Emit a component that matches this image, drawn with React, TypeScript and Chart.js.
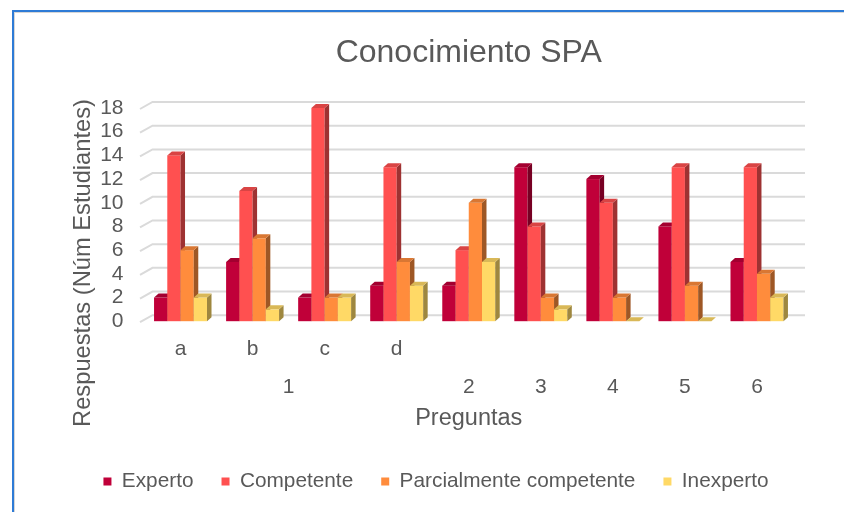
import React, { useEffect, useRef } from 'react';
import { Chart, registerables } from 'chart.js';

Chart.register(...registerables);

// ---- data ----
const subLabels = ['a', 'b', 'c', 'd', '', '', '', '', ''];
const questionLabels = ['1', '1', '1', '1', '2', '3', '4', '5', '6'];
const experto = [2, 5, 2, 3, 3, 13, 12, 8, 5];
const competente = [14, 11, 18, 13, 6, 8, 10, 13, 13];
const parcialmente = [6, 7, 2, 5, 10, 2, 2, 3, 4];
const inexperto = [2, 1, 2, 3, 5, 1, 0, 0, 2];
const seriesNames = ['Experto', 'Competente', 'Parcialmente competente', 'Inexperto'];
const seriesColors = ['#C00039', '#FF5050', '#FF8C3C', '#FFD966'];
const titleText = 'Conocimiento SPA';
const yTitle = 'Respuestas (Núm Estudiantes)';
const xTitle = 'Preguntas';

const FONT = "'Liberation Sans', Arial, sans-serif";
const TEXT = '#595959';
const DX = 4.5;
const DY = 4;

function shade(hex: string, f: number): string {
  const n = parseInt(hex.slice(1), 16);
  const r = Math.round(((n >> 16) & 255) * f);
  const g = Math.round(((n >> 8) & 255) * f);
  const b = Math.round((n & 255) * f);
  return `rgb(${r},${g},${b})`;
}

const bars3dPlugin = {
  id: 'bars3d',
  beforeDatasetsDraw(chart: any) {
    const ctx = chart.ctx;
    const area = chart.chartArea;
    const ys = chart.scales.y;
    ctx.save();
    ctx.strokeStyle = '#DADADA';
    ctx.lineWidth = 2;
    ys.ticks.forEach((t: any) => {
      const py = ys.getPixelForValue(t.value);
      ctx.beginPath();
      ctx.moveTo(area.left - 4.5, py + 1);
      ctx.lineTo(area.left + 8, py - 6);
      ctx.lineTo(area.right + 12, py - 6);
      ctx.stroke();
    });
    chart.data.datasets.forEach((ds: any, di: number) => {
      const meta = chart.getDatasetMeta(di);
      if (meta.hidden) return;
      const col = ds.backgroundColor as string;
      meta.data.forEach((el: any) => {
        const p = el.getProps(['x', 'y', 'base', 'width'], true);
        const l = p.x - p.width / 2;
        const r = p.x + p.width / 2;
        const top = p.y;
        const bottom = p.base;
        ctx.fillStyle = col;
        ctx.fillRect(l, top, p.width, bottom - top);
        ctx.fillStyle = shade(col, 0.62);
        ctx.beginPath();
        ctx.moveTo(r, top);
        ctx.lineTo(r + DX, top - DY);
        ctx.lineTo(r + DX, bottom - DY);
        ctx.lineTo(r, bottom);
        ctx.closePath();
        ctx.fill();
        ctx.fillStyle = shade(col, 0.85);
        ctx.beginPath();
        ctx.moveTo(l, top);
        ctx.lineTo(l + DX, top - DY);
        ctx.lineTo(r + DX, top - DY);
        ctx.lineTo(r, top);
        ctx.closePath();
        ctx.fill();
      });
    });
    ctx.restore();
    return false;
  },
};

const textPlugin = {
  id: 'extraText',
  afterDraw(chart: any) {
    const xs = chart.scales.x;
    const ctx = chart.ctx;
    ctx.save();
    ctx.fillStyle = TEXT;
    ctx.font = `21px ${FONT}`;
    ctx.textAlign = 'center';
    ctx.textBaseline = 'middle';
    let i = 0;
    while (i < questionLabels.length) {
      let j = i;
      while (j + 1 < questionLabels.length && questionLabels[j + 1] === questionLabels[i]) j++;
      const cx = (xs.getPixelForValue(i) + xs.getPixelForValue(j)) / 2;
      ctx.fillText(questionLabels[i], cx, xs.top + 66);
      i = j + 1;
    }
    // y-axis title
    ctx.translate(83, 263);
    ctx.rotate(-Math.PI / 2);
    ctx.font = `23.7px ${FONT}`;
    ctx.fillText(yTitle, 0, 0);
    ctx.restore();
  },
};

export default function App() {
  const ref = useRef<HTMLCanvasElement | null>(null);
  useEffect(() => {
    if (!ref.current) return;
    const values = [experto, competente, parcialmente, inexperto];
    const chart = new Chart(ref.current, {
      type: 'bar',
      data: {
        labels: subLabels,
        datasets: seriesNames.map((name, i) => ({
          label: name,
          data: values[i],
          backgroundColor: seriesColors[i],
          borderWidth: 0,
          categoryPercentage: 0.735,
          barPercentage: 1.0,
          yAxisID: 'y',
        })),
      },
      options: {
        responsive: false,
        animation: false,
        layout: { padding: { left: 44, right: 16, top: 0, bottom: 10 } },
        plugins: {
          title: {
            display: true,
            text: titleText,
            color: TEXT,
            fullSize: false,
            font: { family: FONT, size: 32, weight: 'normal', lineHeight: 1.2 },
            padding: { top: 34, bottom: 35.6 },
          },
          legend: {
            position: 'bottom',
            labels: {
              color: TEXT,
              font: { family: FONT, size: 20.8 },
              boxWidth: 8,
              boxHeight: 8,
              padding: 28,
            },
          },
          tooltip: { enabled: false },
        },
        scales: {
          x: {
            grid: { display: false, drawTicks: false },
            border: { display: false },
            ticks: {
              color: TEXT,
              font: { family: FONT, size: 21, lineHeight: 1.2 },
              padding: 15,
              maxRotation: 0,
              autoSkip: false,
            },
            title: {
              display: true,
              text: xTitle,
              color: TEXT,
              font: { family: FONT, size: 23.5, lineHeight: 1.2 },
              padding: { top: 0, bottom: 11 },
            },
            afterFit(scale: any) {
              scale.height = 122;
            },
          },
          y: {
            min: 0,
            max: 18,
            ticks: {
              stepSize: 2,
              autoSkip: false,
              color: TEXT,
              font: { family: FONT, size: 21 },
              padding: 21,
            },
            grid: { display: false, drawTicks: false },
            border: { display: false },
            title: { display: false },
            afterFit(scale: any) {
              scale.width = 100.5;
            },
          },
          yRight: {
            position: 'right',
            display: true,
            grid: { display: false, drawTicks: false },
            border: { display: false },
            ticks: { display: false },
            afterFit(scale: any) {
              scale.width = 35;
            },
          },
        },
      },
      plugins: [bars3dPlugin, textPlugin],
    });
    return () => chart.destroy();
  }, []);

  return (
    <div style={{ position: 'fixed', left: 0, top: 0, width: 844, height: 512, overflow: 'hidden', background: '#fff' }}>
      <canvas ref={ref} width={844} height={512} style={{ position: 'absolute', left: 0, top: 0, display: 'block' }} />
      <div
        style={{
          position: 'absolute',
          left: 12,
          top: 10,
          width: 832,
          height: 502,
          boxSizing: 'border-box',
          borderLeft: '2px solid #2E7BD6',
          borderTop: '2px solid #2E7BD6',
          boxShadow: 'inset 1px 1px 0 #D6D6D6',
          pointerEvents: 'none',
        }}
      />
    </div>
  );
}
